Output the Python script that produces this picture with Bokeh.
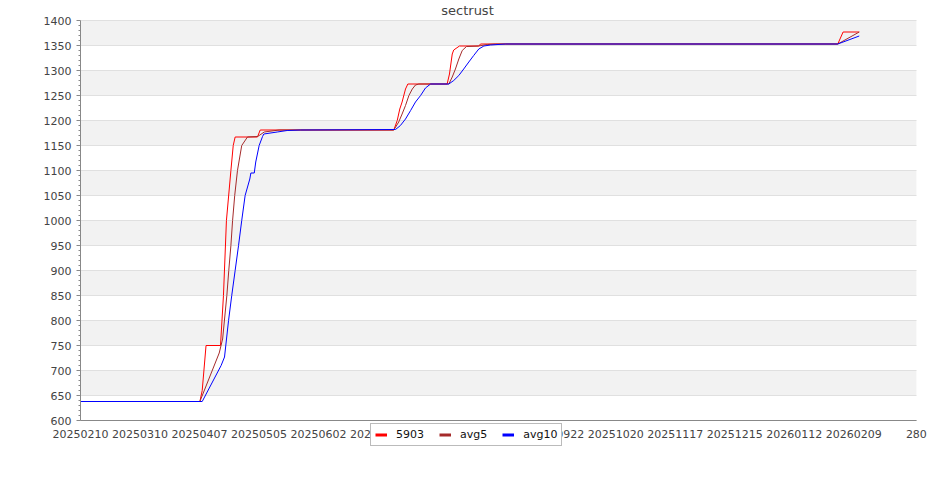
from bokeh.plotting import figure
from bokeh.models import (Range1d, FixedTicker, Legend, LegendItem, Label)
from bokeh.embed import file_html
from bokeh.resources import INLINE

# ---- data (x = days since 2025-02-10) ----
tick_days = [0, 28, 56, 84, 112, 140, 168, 196, 224, 252, 280, 308, 336, 364, 393.5]
tick_labels = ["20250210", "20250310", "20250407", "20250505", "20250602", "20250630",
               "20250728", "20250825", "20250922", "20251020", "20251117", "20251215",
               "20260112", "20260209", "280"]

raw_x = [0, 56.2, 57.3, 59.1, 65.9, 67.3, 68.7, 70.8, 71.9, 72.8, 83.3, 84.6,
         147.5, 149.1, 150.3, 151.4, 153.0, 154.1, 172.6, 173.7, 175.0, 175.7,
         178.4, 187.5, 188.3, 356.5, 359.0, 366.6]
raw_y = [638, 638, 660, 750, 750, 850, 1000, 1100, 1150, 1167, 1167, 1181,
         1181, 1200, 1223, 1237, 1263, 1273, 1273, 1293, 1333, 1341,
         1349, 1349, 1353, 1353, 1377, 1377]

avg5_x = [0, 56.2, 65.3, 66.9, 68.9, 69.8, 70.8, 71.6, 72.6, 73.9, 75.9, 78.6,
          83.3, 84.1, 86.5, 93.5,
          147.5, 149.8, 151.4, 153.0, 154.6, 156.2, 157.7, 159.3,
          173.4, 175.0, 176.5, 178.1, 179.7, 181.7, 187.5, 191.5, 195.4,
          356.5, 366.6]
avg5_y = [638, 638, 735, 763, 850, 900, 950, 1000, 1050, 1100, 1150, 1167,
          1168, 1170, 1177, 1181,
          1181, 1197, 1213, 1230, 1250, 1263, 1271, 1273,
          1273, 1287, 1303, 1323, 1340, 1348, 1349, 1352, 1353,
          1353, 1377]

avg10_x = [0, 57.3, 66.2, 67.8, 69.7, 71.2, 72.8, 74.4, 75.9, 77.5, 79.7, 80.2,
           81.8, 82.5, 84.1, 85.7, 86.3, 92.6, 97.3, 103.6,
           148.3, 150.6, 153.0, 155.4, 157.7, 160.1, 162.4, 164.8,
           173.4, 175.7, 178.1, 180.4, 182.8, 185.1, 187.5, 189.9, 193.0, 200.1,
           356.5, 366.6]
avg10_y = [638, 638, 710, 727, 800, 850, 900, 950, 1000, 1050, 1083, 1095,
           1095, 1117, 1150, 1168, 1173, 1177, 1180, 1181,
           1182, 1190, 1203, 1220, 1237, 1250, 1265, 1273,
           1273, 1280, 1290, 1303, 1317, 1330, 1343, 1349, 1351, 1353,
           1353, 1369]

y_ticks = list(range(600, 1401, 50))
y_minor = [v for v in range(600, 1401, 10) if v % 50 != 0]
y_min, y_max = 600, 1400
x_min, x_max = 0, 393.5

series_names = ["5903", "avg5", "avg10"]
series_colors = ["#ff0000", "#a52a2a", "#0000ff"]
chart_title = "sectrust"

FONT = "DejaVu Sans"
TXT = "#444444"

# The frame is larger than the data area so that the title, axis labels and
# the legend (which overlaps the x tick labels) are drawn without clipping.
p = figure(width=935, height=490, output_backend="svg", toolbar_location=None,
           x_range=Range1d(-18.83, 402.5), y_range=Range1d(530, 1440),
           min_border_left=40, min_border_right=0, min_border_top=0,
           min_border_bottom=35)
p.outline_line_color = None
p.background_fill_color = "white"
p.border_fill_color = "white"

# grid (600 doubled so the alternating bands start at 650-700)
p.xgrid.grid_line_color = None
p.ygrid.ticker = FixedTicker(ticks=[y_min] + y_ticks)
p.ygrid.bounds = (y_min, y_max)
p.ygrid.cross_bounds = (x_min, x_max)
p.ygrid.grid_line_color = "#e0e0e0"
p.ygrid.band_fill_color = "#f2f2f2"
p.ygrid.band_fill_alpha = 1.0

# y axis drawn at x = 0
p.yaxis.fixed_location = x_min
p.yaxis.bounds = (y_min, y_max)
p.yaxis.ticker = FixedTicker(ticks=y_ticks, minor_ticks=y_minor)
p.yaxis.axis_line_color = "#888888"
p.yaxis.major_tick_line_color = "#888888"
p.yaxis.minor_tick_line_color = "#888888"
p.yaxis.major_tick_in = 0
p.yaxis.major_tick_out = 4
p.yaxis.minor_tick_in = 0
p.yaxis.minor_tick_out = 2
p.yaxis.major_label_standoff = 5
p.yaxis.major_label_text_font = FONT
p.yaxis.major_label_text_font_size = "11px"
p.yaxis.major_label_text_color = TXT

# x axis drawn at y = 600
p.xaxis.fixed_location = y_min
p.xaxis.bounds = (x_min, x_max)
p.xaxis.ticker = FixedTicker(ticks=tick_days)
p.xaxis.major_label_overrides = {d: l for d, l in zip(tick_days, tick_labels)}
p.xaxis.axis_line_color = "#888888"
p.xaxis.major_tick_line_color = None
p.xaxis.minor_tick_line_color = None
p.xaxis.major_tick_in = 0
p.xaxis.major_tick_out = 0
p.xaxis.major_label_standoff = 9
p.xaxis.major_label_text_font = FONT
p.xaxis.major_label_text_font_size = "11px"
p.xaxis.major_label_text_color = TXT

# lines
xs = [raw_x, avg5_x, avg10_x]
ys = [raw_y, avg5_y, avg10_y]
items = []
for name, color, x, y in zip(series_names, series_colors, xs, ys):
    p.line(x, y, line_color=color, line_width=1)
    # single-point line (draws nothing) used only for a thicker legend swatch
    swatch = p.line(x[:1], y[:1], line_color=color, line_width=3)
    items.append(LegendItem(label=name, renderers=[swatch]))

legend = Legend(items=items, orientation="horizontal", location=(330, 9),
                glyph_width=12, glyph_height=13, label_height=13,
                label_standoff=9, spacing=15, padding=4, margin=0,
                label_text_font=FONT, label_text_font_size="11px",
                label_text_color="#111111",
                border_line_color="#777777", border_line_width=1,
                background_fill_color="white", background_fill_alpha=1.0)
p.add_layout(legend, "center")

title = Label(x=427, y=445, x_units="screen", y_units="screen", text=chart_title,
              text_align="center", text_baseline="alphabetic",
              text_font=FONT, text_font_size="13px", text_color=TXT)
p.add_layout(title)

open("out.html", "w").write(file_html(p, INLINE))
